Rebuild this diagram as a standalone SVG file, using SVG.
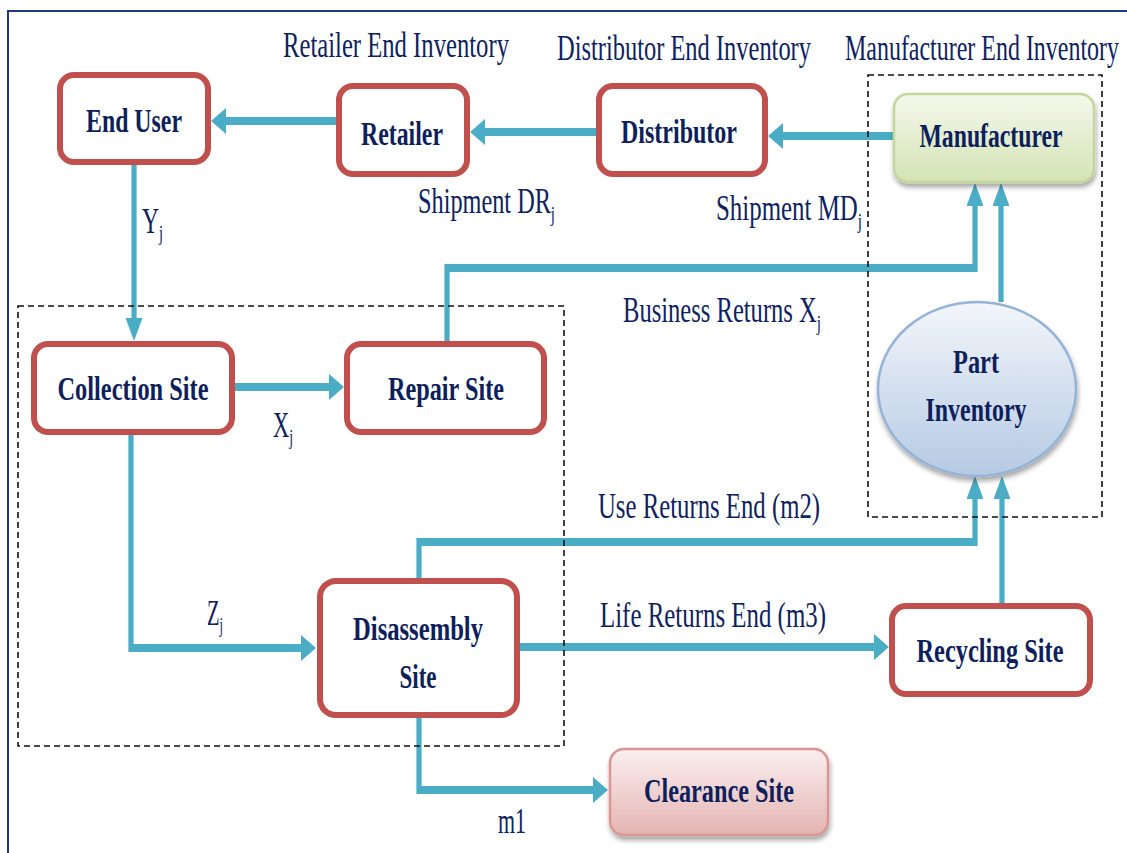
<svg xmlns="http://www.w3.org/2000/svg" width="1127" height="853" viewBox="0 0 1127 853">
<defs>
<style>
.lbl{font-family:"Liberation Serif","Times New Roman",serif;font-size:36px;fill:#0E2260}
.sub{font-size:22px}
.nt{font-family:"Liberation Serif","Times New Roman",serif;font-size:34px;font-weight:bold;fill:#0E1F5B;text-anchor:middle}
.red{fill:#fff;stroke:#C0504D;stroke-width:6}
.dash{fill:none;stroke:#111;stroke-width:1.6;stroke-dasharray:6 4}
.con{fill:none;stroke:#4BACC6;stroke-width:8;stroke-linejoin:miter}
</style>
<marker id="ah" markerUnits="userSpaceOnUse" viewBox="0 0 23 26" markerWidth="23" markerHeight="26" refX="0" refY="13" orient="auto">
<path d="M0,0 L23,13 L0,26 z" fill="#4BACC6"/>
</marker>
<linearGradient id="gGreen" x1="0" y1="0" x2="0" y2="1">
<stop offset="0" stop-color="#F4F8EC"/><stop offset="1" stop-color="#D4E3B5"/>
</linearGradient>
<linearGradient id="gBlue" x1="0" y1="0" x2="0" y2="1">
<stop offset="0" stop-color="#F3F6FB"/><stop offset="1" stop-color="#B5CAE3"/>
</linearGradient>
<linearGradient id="gPink" x1="0" y1="0" x2="0" y2="1">
<stop offset="0" stop-color="#FBEFEF"/><stop offset="1" stop-color="#E4B4B3"/>
</linearGradient>
<filter id="sh" x="-10%" y="-10%" width="125%" height="135%">
<feDropShadow dx="1" dy="4" stdDeviation="2.5" flood-color="#000" flood-opacity="0.35"/>
</filter>
</defs>
<rect x="0" y="0" width="1127" height="853" fill="#fff"/>
<rect x="8" y="11" width="1140" height="860" fill="none" stroke="#1F3A7A" stroke-width="2"/>

<g id="connectors" transform="scale(0.65,1)">
<path class="con" marker-end="url(#ah)" d="M518.5,121 H347.7"/>
<path class="con" marker-end="url(#ah)" d="M918.5,132 H746.2"/>
<path class="con" marker-end="url(#ah)" d="M1375.4,136 H1204.6"/>
<path class="con" marker-end="url(#ah)" d="M206.2,165 V318"/>
<path class="con" marker-end="url(#ah)" d="M361.5,387 H506.2"/>
<path class="con" marker-end="url(#ah)" d="M687.7,341 V268 H1500 V206"/>
<path class="con" marker-end="url(#ah)" d="M1540,302 V206"/>
<path class="con" marker-end="url(#ah)" d="M201.5,435 V648 H463.1"/>
<path class="con" marker-end="url(#ah)" d="M644.6,578 V542 H1500 V499"/>
<path class="con" marker-end="url(#ah)" d="M800,647 H1344.6"/>
<path class="con" marker-end="url(#ah)" d="M1541.5,603 V499"/>
<path class="con" marker-end="url(#ah)" d="M644.6,718 V790 H912.3"/>
</g>

<g id="groups">
<rect class="dash" x="868" y="75" width="234" height="442"/>
<rect class="dash" x="18" y="306" width="546" height="440"/>
</g>

<g id="end-user"><rect class="red" x="60" y="75" width="148" height="87" rx="14"/><text class="nt" x="134" y="132" textLength="96" lengthAdjust="spacingAndGlyphs">End User</text></g>
<g id="retailer"><rect class="red" x="339" y="86" width="128" height="88" rx="14"/><text class="nt" x="402" y="145" textLength="82" lengthAdjust="spacingAndGlyphs">Retailer</text></g>
<g id="distributor"><rect class="red" x="599" y="86" width="166" height="88" rx="14"/><text class="nt" x="679" y="143" textLength="116" lengthAdjust="spacingAndGlyphs">Distributor</text></g>
<g id="manufacturer"><rect x="894" y="94" width="200" height="88" rx="14" fill="url(#gGreen)" stroke="#C3D69B" stroke-width="2.5" filter="url(#sh)"/><text class="nt" x="991" y="147" textLength="143" lengthAdjust="spacingAndGlyphs">Manufacturer</text></g>
<g id="collection-site"><rect class="red" x="34" y="344" width="198" height="88" rx="14"/><text class="nt" x="133" y="400" textLength="151" lengthAdjust="spacingAndGlyphs">Collection Site</text></g>
<g id="repair-site"><rect class="red" x="347" y="344" width="197" height="88" rx="14"/><text class="nt" x="446" y="400" textLength="116" lengthAdjust="spacingAndGlyphs">Repair Site</text></g>
<g id="part-inventory"><ellipse cx="977" cy="389" rx="99" ry="87" fill="url(#gBlue)" stroke="#95B3D7" stroke-width="2.5" filter="url(#sh)"/><text class="nt" x="976" y="373" textLength="46" lengthAdjust="spacingAndGlyphs">Part</text><text class="nt" x="976" y="421" textLength="101" lengthAdjust="spacingAndGlyphs">Inventory</text></g>
<g id="disassembly-site"><rect class="red" x="320" y="581" width="197" height="134" rx="16"/><text class="nt" x="418" y="640" textLength="130" lengthAdjust="spacingAndGlyphs">Disassembly</text><text class="nt" x="418" y="688" textLength="37" lengthAdjust="spacingAndGlyphs">Site</text></g>
<g id="recycling-site"><rect class="red" x="892" y="606" width="198" height="88" rx="14"/><text class="nt" x="990" y="662" textLength="147" lengthAdjust="spacingAndGlyphs">Recycling Site</text></g>
<g id="clearance-site"><rect x="610" y="749" width="218" height="86" rx="14" fill="url(#gPink)" stroke="#D99694" stroke-width="2.5" filter="url(#sh)"/><text class="nt" x="719" y="802" textLength="150" lengthAdjust="spacingAndGlyphs">Clearance Site</text></g>

<g id="labels">
<text class="lbl" x="283" y="57" textLength="226" lengthAdjust="spacingAndGlyphs">Retailer End Inventory</text>
<text class="lbl" x="557" y="60" textLength="254" lengthAdjust="spacingAndGlyphs">Distributor End Inventory</text>
<text class="lbl" x="845" y="60" textLength="274" lengthAdjust="spacingAndGlyphs">Manufacturer End Inventory</text>
<text class="lbl" x="418" y="213" textLength="137" lengthAdjust="spacingAndGlyphs">Shipment DR<tspan class="sub" dy="8">j</tspan></text>
<text class="lbl" x="716" y="220" textLength="146" lengthAdjust="spacingAndGlyphs">Shipment MD<tspan class="sub" dy="8">j</tspan></text>
<text class="lbl" x="142" y="233" textLength="21" lengthAdjust="spacingAndGlyphs">Y<tspan class="sub" dy="7">j</tspan></text>
<text class="lbl" x="623" y="322" textLength="198" lengthAdjust="spacingAndGlyphs">Business Returns X<tspan class="sub" dy="8">j</tspan></text>
<text class="lbl" x="273" y="437" textLength="20" lengthAdjust="spacingAndGlyphs">X<tspan class="sub" dy="7">j</tspan></text>
<text class="lbl" x="598" y="518" textLength="222" lengthAdjust="spacingAndGlyphs">Use Returns End (m2)</text>
<text class="lbl" x="600" y="627" textLength="226" lengthAdjust="spacingAndGlyphs">Life Returns End (m3)</text>
<text class="lbl" x="207" y="625" textLength="16" lengthAdjust="spacingAndGlyphs">Z<tspan class="sub" dy="7">j</tspan></text>
<text class="lbl" x="498" y="833" textLength="28" lengthAdjust="spacingAndGlyphs">m1</text>
</g>
</svg>
